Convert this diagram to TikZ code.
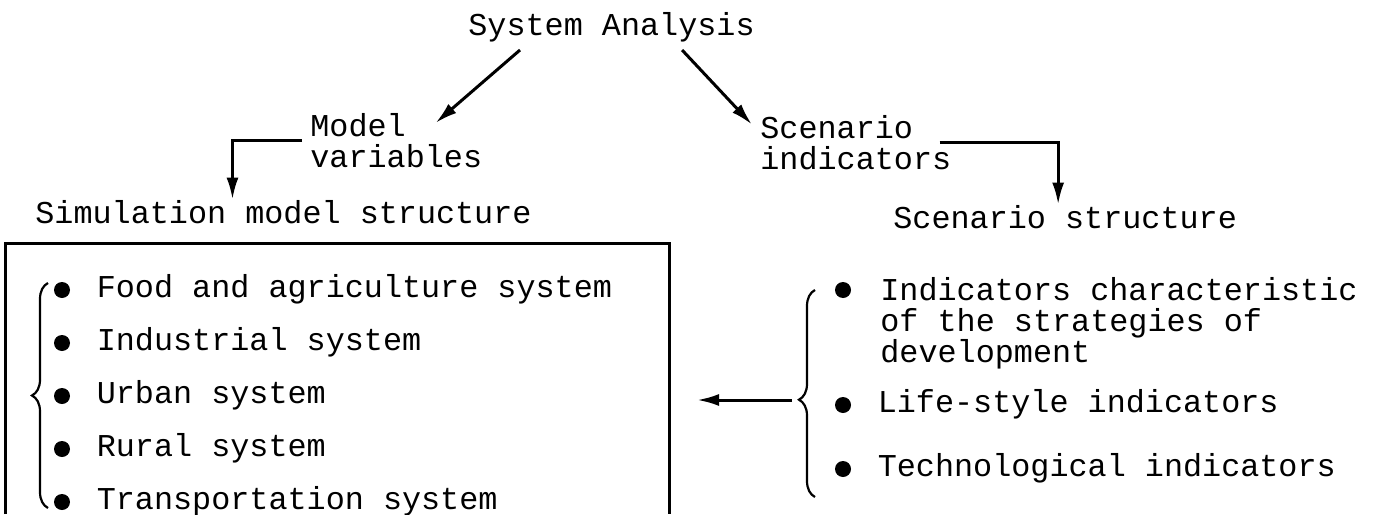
\documentclass[tikz,border=0pt]{standalone}
\usepackage{fontspec}
\setmainfont{Liberation Mono}
\usetikzlibrary{positioning,arrows.meta,decorations.pathreplacing}

\begin{document}
\begin{tikzpicture}[x=0.5pt,y=-0.5pt,
	txt/.style={font=\fontsize{15.9}{15.5}\selectfont,inner sep=0pt},
	item/.style={txt,text height=10pt,text depth=3pt},
	bul/.style={circle,fill,inner sep=0pt,minimum size=8pt},
	arr/.style={line width=1.5pt,-{Latex[length=11pt,width=6pt]}},
	brc/.style={line width=1.1pt,decorate,decoration={brace,amplitude=8pt,aspect=#1}},
	brc/.default=0.5]
	\useasboundingbox (0,0) rectangle (1376,514);
	% headings
	\node[txt,anchor=base west] (sa) at (468,35) {System Analysis};
	\node[txt,anchor=north west,align=left] (mv) at (310,113) {Model\\variables};
	\node[txt,anchor=north west,align=left] (si) at (760,115) {Scenario\\indicators};
	\node[txt,anchor=base west] (sms) at (35,223) {Simulation model structure};
	\node[txt,anchor=base west] (ss) at (893,228) {Scenario structure};
	\draw[arr] ([shift={(26pt,-4pt)}]sa.south west) -- ([shift={(-23.5pt,-5pt)}]mv.north east);
	\draw[arr] ([shift={(-36.5pt,-4pt)}]sa.south east) -- ([shift={(-4pt,9pt)}]si.west);
	\draw[arr] ([xshift=-4pt]mv.west) -| ([xshift=-25.5pt]sms.north);
	\draw[arr] ([xshift=-6pt]si.east) -| ([xshift=-3.5pt]ss.north);
	% model box
	\draw[line width=1.5pt] (5,514) -- (5,243) -- (669,243) -- (669,514);
	\foreach \t [count=\i] in {Food and agriculture system,Industrial system,%
		Urban system,Rural system,Transportation system} {
		\node[bul] (lb\i) at ({62},{290+53*(\i-1)}) {};
		\node[item,right=13pt of lb\i] (lt\i) {\t};
	}
	\draw[brc] (48,508) -- (48,283);
	% scenario list
	\node[bul] (rb1) at (843,290) {};
	\node[txt,anchor=north west,align=left] (rt1) at (880,277)
		{Indicators characteristic\\of the strategies of\\development};
	\node[bul] (rb2) at (843,405) {};
	\node[item,right=13pt of rb2] (rt2) {Life-style indicators};
	\node[bul] (rb3) at (843,469) {};
	\node[item,right=13pt of rb3] (rt3) {Technological indicators};
	\draw[brc=0.47] (815,497) -- (815,290);
	\coordinate (tip) at (792,400);
	\coordinate (end) at (697,400);
	\draw[arr] (tip) -- (end);
\end{tikzpicture}
\end{document}
